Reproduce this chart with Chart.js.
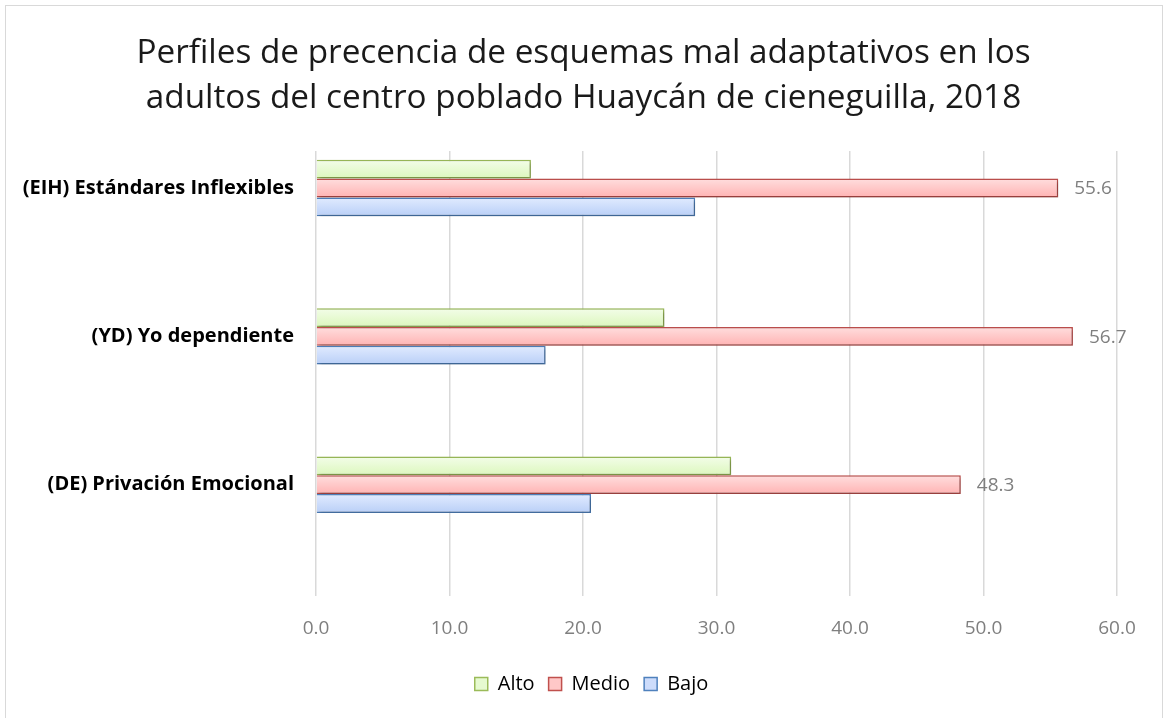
<!DOCTYPE html>
<html lang="es">
<head>
    <meta charset="UTF-8">
    <title>Perfiles de precencia de esquemas mal adaptativos</title>
    <script src="https://cdnjs.cloudflare.com/ajax/libs/Chart.js/4.4.1/chart.umd.min.js"></script>
    <style>
        html, body { margin: 0; padding: 0; background: #fff; }
        #wrap { position: relative; width: 1167px; height: 718px; overflow: hidden; }
        #frame { position: absolute; left: 5px; top: 5px; width: 1156px; height: 720px; border: 1px solid #d9d9d9; }
        #chart { position: absolute; left: 0; top: 0; }
    </style>
</head>
<body>
<div id="wrap">
    <div id="frame"></div>
    <canvas id="chart" width="1167" height="718"></canvas>
</div>
<script>
// data
const categories = ['(EIH) Estándares Inflexibles', '(YD) Yo dependiente', '(DE) Privación Emocional'];
const seriesNames = ['Alto', 'Medio', 'Bajo'];
const alto = [16.1, 26.1, 31.1];
const medio = [55.6, 56.7, 48.3];
const bajo = [28.4, 17.2, 20.6];
const xTickLabels = ['0.0', '10.0', '20.0', '30.0', '40.0', '50.0', '60.0'];

// styles
const FONT = "'Open Sans'";
const borders = ['#9bbb59', '#c0504d', '#4f81bd'];
const gradTop = ['#f3fde9', '#ffdede', '#e1ebff'];
const gradBottom = ['#dcf7bd', '#ffb3b3', '#b9cff7'];
const flat = ['#e6fad0', '#ffc8c8', '#cddcfb'];

function points(arr) {
    return arr.map((v, i) => ({ x: v, y: i }));
}

// gradient fill per bar + soft shadow
const barLook = {
    id: 'barLook',
    afterLayout(chart) {
        // title and legend sit centred on the whole frame, not on the padded box
        chart.legend.left += 33;
        chart.legend.right += 33;
        chart.titleBlock.left += 25;
        chart.titleBlock.right += 25;
    },
    beforeDatasetsDraw(chart) {
        const ctx = chart.ctx;
        chart.data.datasets.forEach((ds, di) => {
            chart.getDatasetMeta(di).data.forEach(el => {
                const top = el.y - el.height / 2;
                const g = ctx.createLinearGradient(0, top, 0, top + el.height);
                g.addColorStop(0, gradTop[di]);
                g.addColorStop(1, gradBottom[di]);
                el.options = Object.assign({}, el.options, { backgroundColor: g });
            });
        });
    },
    beforeDatasetDraw(chart) {
        const ctx = chart.ctx;
        ctx.save();
        ctx.shadowColor = 'rgba(0,0,0,0.28)';
        ctx.shadowBlur = 4;
        ctx.shadowOffsetX = 2;
        ctx.shadowOffsetY = 2;
    },
    afterDatasetDraw(chart) {
        chart.ctx.restore();
    },
    afterDatasetsDraw(chart) {
        // value labels only on Medio
        const ctx = chart.ctx;
        ctx.save();
        ctx.font = '19px ' + FONT;
        ctx.fillStyle = '#7f7f7f';
        ctx.textBaseline = 'middle';
        ctx.textAlign = 'left';
        chart.getDatasetMeta(1).data.forEach((el, i) => {
            ctx.fillText(medio[i].toFixed(1), el.x + 16, el.y + 1);
        });
        ctx.restore();
    }
};

new Chart(document.getElementById('chart'), {
    type: 'bar',
    data: {
        datasets: [
            { label: seriesNames[0], data: points(alto), borderColor: borders[0], backgroundColor: flat[0] },
            { label: seriesNames[1], data: points(medio), borderColor: borders[1], backgroundColor: flat[1] },
            { label: seriesNames[2], data: points(bajo), borderColor: borders[2], backgroundColor: flat[2] }
        ]
    },
    options: {
        indexAxis: 'y',
        responsive: false,
        animation: false,
        events: [],
        datasets: {
            bar: { borderWidth: 1.5, barPercentage: 1, categoryPercentage: 0.38 }
        },
        layout: { padding: { left: 0, right: 50, top: 0, bottom: 14 } },
        scales: {
            x: {
                min: 0, max: 60,
                ticks: {
                    stepSize: 10,
                    padding: 21,
                    color: '#7f7f7f',
                    font: { family: FONT, size: 19 },
                    callback: (v, i) => xTickLabels[i]
                },
                grid: { color: '#d9d9d9', lineWidth: 1.5, drawTicks: false },
                border: { display: false },
                afterFit(s) { s.height = 64; }
            },
            y: {
                type: 'linear',
                reverse: true,
                offset: false,
                min: -0.25, max: 2.75,
                afterBuildTicks(s) { s.ticks = categories.map((c, i) => ({ value: i })); },
                ticks: {
                    padding: 22,
                    color: '#000',
                    font: { family: FONT, size: 20, weight: 'bold' },
                    callback: v => categories[v]
                },
                grid: { display: false, drawTicks: false },
                border: { display: false },
                afterFit(s) { s.width = 316; }
            }
        },
        plugins: {
            title: {
                display: true,
                text: ['Perfiles de precencia de esquemas mal adaptativos en los', 'adultos del centro poblado Huaycán de cieneguilla, 2018'],
                color: '#1a1a1a',
                font: { family: FONT, size: 33.3, weight: 'normal', lineHeight: 1.35 },
                padding: { top: 31, bottom: 30 }
            },
            legend: {
                position: 'bottom',
                labels: {
                    boxWidth: 13,
                    boxHeight: 13,
                    padding: 14,
                    color: '#7f7f7f',
                    font: { family: FONT, size: 20 },
                    generateLabels: chart => chart.data.datasets.map((ds, i) => ({
                        text: ds.label,
                        fillStyle: flat[i],
                        strokeStyle: borders[i],
                        lineWidth: 1.5,
                        hidden: false,
                        datasetIndex: i
                    }))
                }
            },
            tooltip: { enabled: false }
        }
    },
    plugins: [barLook]
});
</script>
</body>
</html>
